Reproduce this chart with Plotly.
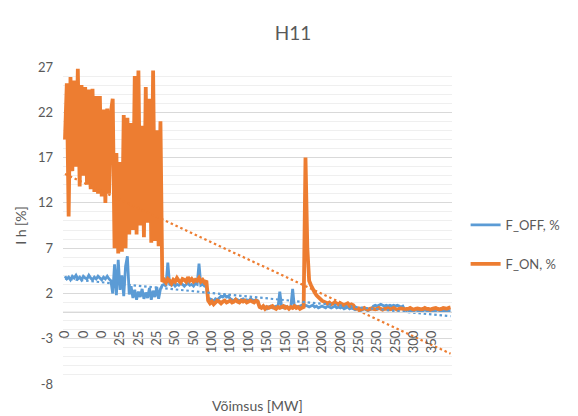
import numpy as np
import plotly.graph_objects as go

# x categories: one label every 10 points
tick_labels = ["0", "0", "0", "25", "25", "25", "50", "50", "100", "100", "100",
               "150", "150", "150", "200", "200", "250", "250", "250", "300", "350"]
y_ticks = [-8, -3, 2, 7, 12, 17, 22, 27]
y_tick_labels = ["-8", "-3", "2", "7", "12", "17", "22", "27"]

f_on = [
    # noisy high part
    19.0, 25.2, 10.5, 25.9, 15.5, 25.5, 16.0, 26.8, 13.8, 25.0,
    15.0, 24.8, 14.0, 24.5, 13.5, 24.6, 13.2, 23.8, 13.0, 23.8,
    12.7, 22.3, 12.0, 22.4, 13.0, 22.0, 23.5, 7.0, 17.5, 6.4,
    16.5, 6.6, 21.7, 7.0, 21.4, 8.5, 20.8, 9.0, 26.0, 8.5,
    26.6, 9.5, 20.5, 8.2, 24.8, 9.8, 23.5, 7.6, 26.6, 7.8,
    20.0, 7.2, 21.0, 3.3,
    3.5, 3.2, 3.6, 3.4, 3.1, 3.5, 3.3, 3.7, 3.4, 3.2, 3.6, 3.5,
    3.3, 3.8, 3.4, 3.6, 3.3, 3.5, 3.4, 3.7, 3.3, 3.5, 3.2, 3.4,
    1.2, 0.9, 1.1, 0.8, 1.0, 1.2, 1.1, 0.9, 1.1, 1.2, 1.0, 1.1, 1.2, 1.0,
    1.1, 1.3, 1.1, 1.0, 1.2, 1.1, 1.2, 1.0, 1.1, 1.2, 1.1, 1.0, 1.2, 1.1,
    0.5, 0.4, 0.6, 0.3, 0.5, 0.4, 0.5, 0.6, 0.4, 0.3, 0.5, 0.4, 0.5,
    0.6, 0.4, 0.5, 0.3, 0.5, 0.4, 0.6, 0.4, 0.5, 0.3, 0.4, 0.5,
    # spike
    17.0, 7.0, 3.4, 2.9, 2.5, 2.1, 1.8, 1.6, 1.4, 1.2, 1.1,
    1.0, 0.9, 1.0, 0.8, 0.9, 1.0, 0.9, 0.8, 0.9, 0.8, 0.7, 0.8, 0.9, 0.7, 0.8, 0.7,
    0.4, 0.3, 0.35, 0.25, 0.3, 0.4, 0.3, 0.2, 0.3, 0.35,
    0.3, 0.25, 0.3, 0.4, 0.3, 0.2, 0.3, 0.3, 0.35, 0.25,
    0.3, 0.4, 0.3, 0.2, 0.3, 0.35, 0.3, 0.25, 0.3, 0.3,
    0.4, 0.3, 0.2, 0.3, 0.35, 0.3, 0.25, 0.3, 0.4, 0.3,
    0.3, 0.2, 0.3, 0.35, 0.4, 0.3, 0.25, 0.3, 0.4, 0.35,
    0.3, 0.4, 0.45,
]

f_off = [
    3.9, 3.6, 3.8, 3.5, 3.9, 3.7, 4.0, 3.6, 3.8, 3.5, 3.9, 3.7, 3.6,
    4.0, 3.7, 3.5, 3.8, 3.6, 3.9, 3.7, 3.5, 3.8, 3.6, 3.9, 3.6,
    3.4, 2.0, 5.2, 1.8, 5.7, 2.4, 4.0, 1.7, 5.0, 6.1, 1.9,
    2.8, 1.5, 2.4, 1.3, 2.2, 1.6, 2.5, 1.4, 2.1, 1.5, 2.6, 1.3, 2.3, 1.6, 2.7, 1.4, 2.5,
    2.9, 3.0, 2.8, 5.4, 3.0, 2.9, 3.1, 2.8, 3.0, 2.9, 3.1, 3.0, 2.8,
    3.0, 3.1, 2.9, 3.0, 2.8, 3.1, 3.0, 5.3, 2.9, 3.0, 2.8, 2.9,
    1.2, 1.4, 1.3, 1.1, 1.4, 1.3, 1.5, 1.7, 1.6, 1.8, 1.6, 1.7, 1.4, 1.3,
    1.2, 1.4, 1.3, 1.2, 1.3, 1.4, 1.2, 1.3, 1.2, 1.4, 1.3, 1.2, 1.3, 1.2,
    0.5, 0.4, 0.6, 0.5, 0.3, 0.5, 0.6, 0.4, 0.5, 0.6, 0.4, 2.2, 0.5,
    0.4, 0.6, 0.5, 0.4, 0.5, 2.5, 0.4, 0.6, 0.5, 0.6, 0.7, 0.6,
    0.7, 0.6, 0.5, 0.6, 0.7, 0.5, 0.6, 0.4, 0.5, 0.6, 0.5, 0.4, 0.6, 0.5,
    0.4, 0.5, 0.6, 0.4, 0.5, 0.4, 0.5, 0.3, 0.4, 0.5, 0.3, 0.4, 0.3,
    0.2, 0.3, 0.2, 0.1, 0.2, 0.3, 0.2, 0.1, 0.2, 0.3,
    0.6, 0.7, 0.6, 0.7, 0.8, 0.7, 0.6, 0.7, 0.6, 0.7, 0.6, 0.7, 0.6, 0.7, 0.6, 0.5, 0.6,
    0.2, 0.1, 0.2, 0.1, 0.0, 0.1, 0.2, 0.1, 0.1, 0.0, 0.1, 0.2, 0.1,
    0.0, 0.1, 0.1, 0.0, 0.1, 0.2, 0.1, 0.0, 0.1, 0.1, 0.0, 0.1, 0.1,
]

BLUE = "#5b9bd5"
ORANGE = "#ed7d31"
TEXT = "#595959"
FONT = "Lato, Open Sans, sans-serif"
Y_MIN, Y_MAX = -8, 27
X_RANGE = [-1.08, 210.8]

idx = np.arange(len(f_on))
tick_vals = list(range(0, len(tick_labels) * 10, 10))

fig = go.Figure()

for vals, name, color, width in [(f_off, "F_OFF, %", BLUE, 2.8), (f_on, "F_ON, %", ORANGE, 3.8)]:
    fig.add_trace(go.Scatter(
        x=idx, y=vals, mode="lines", name=name, legendgroup=name,
        line=dict(color=color, width=width, simplify=False)
    ))

# linear trendlines (Excel style, dotted)
for vals, color in [(f_off, BLUE), (f_on, ORANGE)]:
    slope, intercept = np.polyfit(idx, vals, 1)
    fig.add_trace(go.Scatter(
        x=idx, y=slope * idx + intercept, mode="lines", showlegend=False,
        line=dict(color=color, width=2.2, dash="2.5px,2.8px")
    ))

# empty trace so the bottom axis carrying the title gets drawn
fig.add_trace(go.Scatter(x=[], y=[], xaxis="x2", showlegend=False, hoverinfo="skip"))

# page body has an 8px margin, so the figure is 8px smaller than the window
fig.update_layout(
    width=570, height=408,
    margin=dict(l=52, r=126, t=59, b=32),
    paper_bgcolor="white", plot_bgcolor="white",
    font=dict(family=FONT, color=TEXT, size=13),
    title=dict(text="H11", x=0.5, xref="container", xanchor="center",
               y=0.939, yanchor="middle", font=dict(size=19, color=TEXT)),
    showlegend=True,
    legend=dict(x=1.035, xanchor="left", y=0.44, yanchor="middle",
                tracegroupgap=19, font=dict(size=13, color=TEXT)),
    xaxis=dict(
        range=X_RANGE, anchor="free",
        position=(0 - Y_MIN) / (Y_MAX - Y_MIN),
        tickmode="array", tickvals=tick_vals, ticktext=tick_labels,
        tickangle=-90, ticks="", ticklabelstandoff=13,
        showgrid=False, zeroline=False,
        showline=True, linecolor="#d9d9d9", linewidth=1,
        tickfont=dict(size=13, color=TEXT)
    ),
    xaxis2=dict(
        range=X_RANGE, overlaying="x", anchor="y", side="bottom",
        showticklabels=False, ticks="", showgrid=False, zeroline=False, showline=False,
        automargin=False,
        title=dict(text="Võimsus [MW]", standoff=17, font=dict(size=14, color=TEXT))
    ),
    yaxis=dict(
        range=[Y_MIN, Y_MAX], tickmode="array", tickvals=y_ticks, ticktext=y_tick_labels,
        showgrid=True, gridcolor="#d9d9d9", gridwidth=1,
        minor=dict(tick0=Y_MIN, dtick=1, showgrid=True, gridcolor="#efefef", gridwidth=1),
        zeroline=False, showline=False, ticks="", ticklabelstandoff=9,
        tickfont=dict(size=13, color=TEXT),
        title=dict(text="I h [%]", standoff=8, font=dict(size=14, color=TEXT))
    ),
)

fig.write_html("out.html")
